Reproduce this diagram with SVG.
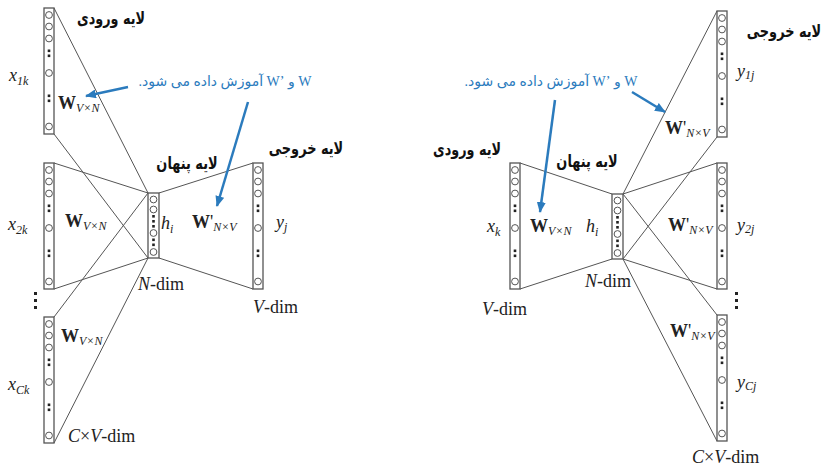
<svg xmlns="http://www.w3.org/2000/svg" xmlns:xlink="http://www.w3.org/1999/xlink" width="825" height="468" viewBox="0 0 825 468">
<style>
  .col rect.box { fill: #fff; stroke: #555; stroke-width: 1.3; }
  .col circle { fill: #fff; stroke: #555; stroke-width: 1; }
  .col rect.dot { fill: #222; stroke: none; }
  .edge { stroke: #555; stroke-width: 1; fill: none; }
  .blue { stroke: #2b7bbd; stroke-width: 2.5; fill: none; }
  .fa { font-family: "DejaVu Sans", sans-serif; font-weight: bold; font-size: 17px; fill: #111; text-anchor: middle; }
  .note { font-family: "Liberation Serif", "DejaVu Sans", serif; font-size: 14px; fill: #2b7bbd; }
  .m { font-family: "Liberation Serif", serif; font-size: 18px; fill: #222; }
  .i { font-style: italic; }
  .b { font-weight: bold; }
  .s { font-size: 12px; font-style: italic; }
</style>
<defs>
  <g id="colv" class="col">
    <rect class="box" x="0" y="0" width="10" height="126"/>
    <circle cx="5" cy="7" r="3.4"/>
    <circle cx="5" cy="18.5" r="3.4"/>
    <circle cx="5" cy="30.5" r="3.4"/>
    <rect class="dot" x="3.7" y="41.5" width="2.6" height="2.6"/>
    <rect class="dot" x="3.7" y="46.5" width="2.6" height="2.6"/>
    <circle cx="5" cy="65" r="3.4"/>
    <rect class="dot" x="3.7" y="86.5" width="2.6" height="2.6"/>
    <rect class="dot" x="3.7" y="91.5" width="2.6" height="2.6"/>
    <circle cx="5" cy="118.5" r="3.4"/>
  </g>
  <g id="colh" class="col">
    <rect class="box" x="0" y="0" width="11" height="65"/>
    <circle cx="5.5" cy="6.5" r="3.4"/>
    <circle cx="5.5" cy="16.5" r="3.4"/>
    <rect class="dot" x="4.2" y="22" width="2.6" height="2.6"/>
    <rect class="dot" x="4.2" y="27" width="2.6" height="2.6"/>
    <rect class="dot" x="4.2" y="32" width="2.6" height="2.6"/>
    <circle cx="5.5" cy="40" r="3.4"/>
    <rect class="dot" x="4.2" y="45.5" width="2.6" height="2.6"/>
    <rect class="dot" x="4.2" y="50.5" width="2.6" height="2.6"/>
    <circle cx="5.5" cy="59" r="3.4"/>
  </g>
  <marker id="ah" markerUnits="userSpaceOnUse" markerWidth="11" markerHeight="9" refX="10" refY="4.5" orient="auto">
    <path d="M0,0 L11,4.5 L0,9 z" fill="#2b7bbd"/>
  </marker>
</defs>

<g id="connectors">
  <!-- left model -->
  <line class="edge" x1="54" y1="8" x2="148" y2="193"/>
  <line class="edge" x1="54" y1="134" x2="148" y2="258"/>
  <line class="edge" x1="54" y1="163" x2="148" y2="193"/>
  <line class="edge" x1="54" y1="289" x2="148" y2="258"/>
  <line class="edge" x1="54" y1="317" x2="148" y2="193"/>
  <line class="edge" x1="54" y1="443" x2="148" y2="258"/>
  <line class="edge" x1="159" y1="193" x2="253" y2="163"/>
  <line class="edge" x1="159" y1="258" x2="253" y2="289"/>
  <!-- right model -->
  <line class="edge" x1="520" y1="163" x2="612" y2="194"/>
  <line class="edge" x1="520" y1="289" x2="612" y2="259"/>
  <line class="edge" x1="623" y1="194" x2="717" y2="11"/>
  <line class="edge" x1="623" y1="259" x2="717" y2="137"/>
  <line class="edge" x1="623" y1="194" x2="717" y2="163"/>
  <line class="edge" x1="623" y1="259" x2="717" y2="289"/>
  <line class="edge" x1="623" y1="194" x2="717" y2="315"/>
  <line class="edge" x1="623" y1="259" x2="717" y2="441"/>
  <!-- blue annotation arrows -->
  <line class="blue" x1="128" y1="87" x2="86" y2="96" marker-end="url(#ah)"/>
  <line class="blue" x1="248" y1="102" x2="217" y2="206" marker-end="url(#ah)"/>
  <line class="blue" x1="632" y1="92" x2="665" y2="112" marker-end="url(#ah)"/>
  <line class="blue" x1="555" y1="100" x2="540" y2="212" marker-end="url(#ah)"/>
</g>

<!-- left model nodes -->
<g id="left-input-1"><use xlink:href="#colv" x="44" y="8"/></g>
<g id="left-input-2"><use xlink:href="#colv" x="44" y="163"/></g>
<g id="left-input-3"><use xlink:href="#colv" x="44" y="317"/></g>
<g id="left-hidden"><use xlink:href="#colh" x="148" y="193"/></g>
<g id="left-output"><use xlink:href="#colv" x="253" y="163"/></g>

<!-- right model nodes -->
<g id="right-input"><use xlink:href="#colv" x="510" y="163"/></g>
<g id="right-hidden"><use xlink:href="#colh" x="612" y="194"/></g>
<g id="right-output-1"><use xlink:href="#colv" x="717" y="11"/></g>
<g id="right-output-2"><use xlink:href="#colv" x="717" y="163"/></g>
<g id="right-output-3"><use xlink:href="#colv" x="717" y="315"/></g>

<g id="labels-left">
  <text class="fa" transform="translate(111,24) scale(0.75,1)">لایه ورودی</text>
  <text class="fa" transform="translate(187,169) scale(0.76,1)">لایه پنهان</text>
  <text class="fa" transform="translate(306,154) scale(0.76,1)">لایه خروجی</text>
  <text class="note" x="225" y="86" text-anchor="middle" direction="rtl" unicode-bidi="embed">W و W’‎ آموزش داده می شود.</text>
  <text class="m i" x="9" y="81">x<tspan class="s" dy="4">1k</tspan></text>
  <text class="m i" x="8" y="230">x<tspan class="s" dy="4">2k</tspan></text>
  <text class="m i" x="8" y="390">x<tspan class="s" dy="4">Ck</tspan></text>
  <text class="m" x="58" y="109"><tspan class="b">W</tspan><tspan class="s" dy="3">V×N</tspan></text>
  <text class="m" x="65" y="227"><tspan class="b">W</tspan><tspan class="s" dy="3">V×N</tspan></text>
  <text class="m" x="61" y="342"><tspan class="b">W</tspan><tspan class="s" dy="3">V×N</tspan></text>
  <text class="m i" x="161" y="229">h<tspan class="s" dy="4">i</tspan></text>
  <text class="m" x="192" y="228"><tspan class="b">W</tspan>'<tspan class="s" dy="3">N×V</tspan></text>
  <text class="m i" x="276" y="228">y<tspan class="s" dy="3">j</tspan></text>
  <text class="m" x="138" y="290"><tspan class="i">N</tspan>-dim</text>
  <text class="m" x="253" y="313"><tspan class="i">V</tspan>-dim</text>
  <text class="m" x="68" y="442"><tspan class="i">C</tspan>×<tspan class="i">V</tspan>-dim</text>
  <rect x="34" y="292" width="3" height="3" fill="#222"/>
  <rect x="34" y="299" width="3" height="3" fill="#222"/>
  <rect x="34" y="306" width="3" height="3" fill="#222"/>
</g>

<g id="labels-right">
  <text class="fa" transform="translate(784,37) scale(0.76,1)">لایه خروجی</text>
  <text class="fa" transform="translate(467,155) scale(0.75,1)">لایه ورودی</text>
  <text class="fa" transform="translate(587,167) scale(0.76,1)">لایه پنهان</text>
  <text class="note" x="551" y="86" text-anchor="middle" direction="rtl" unicode-bidi="embed">W و W’‎ آموزش داده می شود.</text>
  <text class="m i" x="487" y="232">x<tspan class="s" dy="4">k</tspan></text>
  <text class="m" x="530" y="232"><tspan class="b">W</tspan><tspan class="s" dy="3">V×N</tspan></text>
  <text class="m i" x="586" y="232">h<tspan class="s" dy="4">i</tspan></text>
  <text class="m" x="665" y="134"><tspan class="b">W</tspan>'<tspan class="s" dy="3">N×V</tspan></text>
  <text class="m" x="668" y="231"><tspan class="b">W</tspan>'<tspan class="s" dy="3">N×V</tspan></text>
  <text class="m" x="670" y="337"><tspan class="b">W</tspan>'<tspan class="s" dy="3">N×V</tspan></text>
  <text class="m i" x="737" y="77">y<tspan class="s" dy="2">1j</tspan></text>
  <text class="m i" x="737" y="231">y<tspan class="s" dy="2">2j</tspan></text>
  <text class="m i" x="737" y="388">y<tspan class="s" dy="2">Cj</tspan></text>
  <text class="m" x="585" y="287"><tspan class="i">N</tspan>-dim</text>
  <text class="m" x="482" y="315"><tspan class="i">V</tspan>-dim</text>
  <text class="m" x="692" y="463"><tspan class="i">C</tspan>×<tspan class="i">V</tspan>-dim</text>
  <rect x="735" y="292" width="3" height="3" fill="#222"/>
  <rect x="735" y="299" width="3" height="3" fill="#222"/>
  <rect x="735" y="306" width="3" height="3" fill="#222"/>
</g>
</svg>
